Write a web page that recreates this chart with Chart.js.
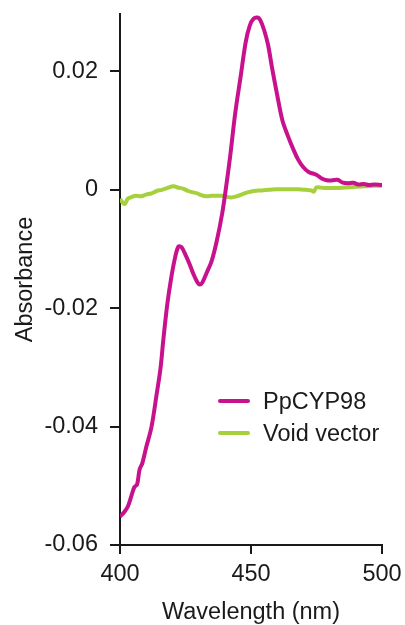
<!DOCTYPE html>
<html lang="en">
<head>
    <meta charset="UTF-8">
    <title>Absorbance spectrum</title>
    <script src="https://cdn.jsdelivr.net/npm/chart.js"></script>
    <style>
        body { margin: 0; background: #fff; }
        #wrap { position: relative; width: 405px; height: 625px; }
        #legend {
            position: absolute; left: 218px; top: 385px;
            font-family: "Liberation Sans", Arial, sans-serif;
            font-size: 23.5px; color: #1a1a1a;
        }
        .item { display: flex; align-items: center; height: 32px; }
        .swatch { width: 32px; height: 4px; border-radius: 2px; margin-right: 13px; }
    </style>
</head>
<body>
<div id="wrap">
    <canvas id="spectrum" width="405" height="625"></canvas>
    <div id="legend"></div>
</div>

<script>
    // values
    const seriesNames = ['PpCYP98', 'Void vector'];

    const ppWavelength = [400, 401.5, 403, 404.5, 405.5, 406.5, 407.5, 408.5, 410, 412, 414, 415.5, 416.5, 418, 419.5, 421, 422.3, 423.5, 425, 426.5, 428, 429.5, 430.5, 431.5, 433, 435, 437, 439, 440.5, 442, 444, 446, 448, 449.5, 451, 452.5, 453.5, 455, 456.5, 458, 460, 462, 464, 466, 468, 470, 472, 474, 475.5, 477, 479, 481, 483, 485, 487, 489, 491, 493, 495, 497, 500];
    const ppAbs = [-0.0552, -0.0545, -0.0535, -0.0515, -0.0502, -0.0498, -0.0472, -0.0462, -0.0435, -0.0401, -0.0345, -0.0300, -0.0255, -0.0195, -0.0150, -0.0115, -0.0096, -0.0097, -0.0110, -0.0125, -0.0142, -0.0156, -0.0160, -0.0156, -0.0141, -0.0120, -0.0085, -0.0040, 0.0005, 0.0055, 0.0130, 0.0190, 0.0250, 0.0277, 0.0289, 0.0291, 0.0287, 0.0270, 0.0245, 0.0207, 0.0160, 0.0117, 0.0092, 0.0070, 0.0051, 0.0038, 0.0030, 0.0027, 0.0024, 0.0019, 0.0016, 0.0016, 0.0017, 0.0012, 0.0011, 0.0012, 0.0009, 0.0010, 0.0008, 0.0009, 0.0008];

    const voidWavelength = [400, 400.7, 401.8, 403, 404.5, 406, 408, 410, 412, 414, 416, 418, 420.5, 422, 424, 426, 427.5, 429.5, 431, 433, 435, 437, 439, 441, 442.5, 444.5, 447, 449, 451, 454, 457, 460, 464, 468, 471, 473, 474, 475, 478, 482, 486, 490, 494, 497, 500];
    const voidAbs = [-0.0015, -0.0020, -0.0024, -0.0015, -0.0012, -0.0010, -0.0011, -0.0008, -0.0006, -0.0002, 0.0000, 0.0003, 0.0006, 0.0004, 0.0002, -0.0002, -0.0004, -0.0006, -0.0009, -0.0011, -0.0010, -0.0010, -0.0010, -0.0012, -0.0013, -0.0011, -0.0007, -0.0004, -0.0002, -0.0001, 0.0000, 0.0001, 0.0001, 0.0001, 0.0000, -0.0001, -0.0003, 0.0004, 0.0003, 0.0003, 0.0004, 0.0005, 0.0006, 0.0007, 0.0007];

    const xTicks = [400, 450, 500];
    const yTicks = [-0.06, -0.04, -0.02, 0, 0.02];

    const colors = ['#c8128d', '#a6d03c'];
    const ink = '#1a1a1a';
    const fontFamily = '"Liberation Sans", Arial, sans-serif';
    const fontSize = 23.5;

    function toPoints(xs, ys) {
        return xs.map((x, i) => ({ x: x, y: ys[i] }));
    }

    const datasets = [
        { label: seriesNames[0], data: toPoints(ppWavelength, ppAbs) },
        { label: seriesNames[1], data: toPoints(voidWavelength, voidAbs) }
    ].map((d, i) => Object.assign(d, {
        borderColor: colors[i],
        backgroundColor: colors[i],
        borderWidth: 4,
        pointRadius: 0,
        tension: 0.35,
        fill: false
    }));

    // green drawn under the magenta curve
    datasets[0].order = 0;
    datasets[1].order = 1;

    // drop the label overhang so the layout padding alone sets the plot box
    function noOverhang(axis) {
        axis.paddingTop = 0;
        axis.paddingBottom = 0;
        axis.paddingLeft = 0;
        axis.paddingRight = 0;
    }

    const ctx = document.getElementById('spectrum').getContext('2d');
    new Chart(ctx, {
        type: 'line',
        data: { datasets: datasets },
        options: {
            responsive: false,
            animation: false,
            layout: { padding: { top: 14, right: 23, left: 0, bottom: 0 } },
            plugins: {
                legend: { display: false },
                tooltip: { enabled: false }
            },
            scales: {
                x: {
                    type: 'linear',
                    min: 400,
                    max: 500,
                    afterBuildTicks: axis => { axis.ticks = xTicks.map(v => ({ value: v })); },
                    afterFit: axis => { axis.height = 80; noOverhang(axis); },
                    ticks: {
                        color: ink,
                        font: { family: fontFamily, size: fontSize },
                        padding: 6,
                        maxRotation: 0
                    },
                    grid: { drawOnChartArea: false, drawTicks: true, tickLength: 9, color: ink, lineWidth: 2 },
                    border: { display: true, color: ink, width: 2 },
                    title: {
                        display: true,
                        text: 'Wavelength (nm)',
                        color: ink,
                        font: { family: fontFamily, size: fontSize },
                        padding: { top: 0, bottom: -2 }
                    }
                },
                y: {
                    min: -0.06,
                    max: 0.0297,
                    afterBuildTicks: axis => { axis.ticks = yTicks.map(v => ({ value: v })); },
                    afterFit: axis => { axis.width = 120; noOverhang(axis); },
                    ticks: {
                        color: ink,
                        font: { family: fontFamily, size: fontSize },
                        padding: 12,
                        callback: v => (v === 0 ? '0' : v.toFixed(2))
                    },
                    grid: { drawOnChartArea: false, drawTicks: true, tickLength: 10, color: ink, lineWidth: 2 },
                    border: { display: true, color: ink, width: 2 },
                    title: {
                        display: true,
                        text: 'Absorbance',
                        color: ink,
                        font: { family: fontFamily, size: fontSize },
                        padding: { top: 11, bottom: 0 }
                    }
                }
            }
        }
    });

    // legend as plain html, built from the dataset list
    const legend = document.getElementById('legend');
    datasets.forEach(d => {
        const item = document.createElement('div');
        item.className = 'item';
        const sw = document.createElement('span');
        sw.className = 'swatch';
        sw.style.background = d.borderColor;
        const txt = document.createElement('span');
        txt.textContent = d.label;
        item.appendChild(sw);
        item.appendChild(txt);
        legend.appendChild(item);
    });
</script>
</body>
</html>
